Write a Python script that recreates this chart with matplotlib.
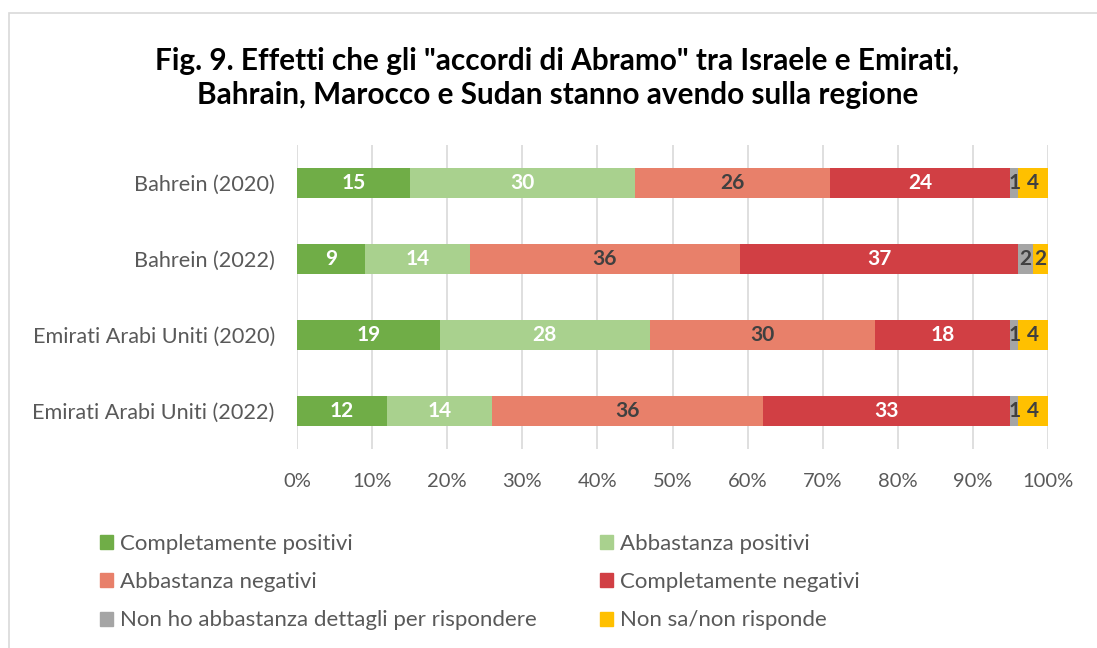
import matplotlib.pyplot as plt
from matplotlib.patches import Rectangle, Patch
import numpy as np

plt.rcParams['font.family'] = ['Lato', 'DejaVu Sans']

categories = ['Bahrein (2020)', 'Bahrein (2022)', 'Emirati Arabi Uniti (2020)', 'Emirati Arabi Uniti (2022)']
series_names = ['Completamente positivi', 'Abbastanza positivi', 'Abbastanza negativi',
                'Completamente negativi', 'Non ho abbastanza dettagli per rispondere', 'Non sa/non risponde']
comp_pos = [15, 9, 19, 12]
abb_pos = [30, 14, 28, 14]
abb_neg = [26, 36, 30, 36]
comp_neg = [24, 37, 18, 33]
no_detail = [1, 2, 1, 1]
non_sa = [4, 2, 4, 4]

series = [comp_pos, abb_pos, abb_neg, comp_neg, no_detail, non_sa]
colors = ['#70AD47', '#A9D18E', '#E8806A', '#D13F44', '#A5A5A5', '#FFC000']
label_colors = ['white', 'white', '#404040', 'white', '#404040', '#404040']

fig = plt.figure(figsize=(10.97, 6.48), dpi=100)
fig.patches.append(Rectangle((9 / 1097, -0.1), 1.2, (648 - 13) / 648 + 0.1, transform=fig.transFigure,
                             fill=False, edgecolor='#D9D9D9', linewidth=1.2))
ax = fig.add_axes([297 / 1097, (648 - 449) / 648, (1048 - 297) / 1097, (449 - 145) / 648])

y = np.arange(len(categories))
totals = np.sum(series, axis=0)
left = np.zeros(len(categories))
handles = []
for vals, col, lc, name in zip(series, colors, label_colors, series_names):
    pct = np.array(vals) / totals * 100
    ax.barh(y, pct, left=left, height=0.4, color=col, zorder=3)
    for yi, l, w, v in zip(y, left, pct, vals):
        ax.text(l + w / 2, yi, str(v), ha='center', va='center', color=lc,
                fontsize=15, fontweight='bold', zorder=4)
    left += pct
    handles.append(Patch(color=col, label=name))

ax.set_xlim(0, 100)
ax.set_ylim(3.5, -0.5)
ax.set_yticks(y)
ax.set_yticklabels(categories)
ax.set_xticks(np.arange(0, 101, 10))
ax.set_xticklabels([f'{v}%' for v in range(0, 101, 10)])
ax.tick_params(axis='both', length=0, labelcolor='#595959')
ax.tick_params(axis='y', pad=16, labelsize=15.6)
ax.tick_params(axis='x', pad=17, labelsize=14.5)
ax.grid(axis='x', color='#D9D9D9', linewidth=1.2, zorder=0)
for s in ax.spines.values():
    s.set_visible(False)

fig.text(0.508, 0.880, 'Fig. 9. Effetti che gli "accordi di Abramo" tra Israele e Emirati,\n'
         'Bahrain, Marocco e Sudan stanno avendo sulla regione',
         ha='center', va='center', fontsize=21.4, fontweight='bold', linespacing=1.25)

# row-wise legend order, like the original
order = [0, 2, 4, 1, 3, 5]
fig.legend([handles[i] for i in order], [series_names[i] for i in order],
           loc='upper left', bbox_to_anchor=(100 / 1097, 1 - 534 / 648),
           ncol=2, frameon=False, fontsize=16, labelcolor='#595959', handlelength=0.6,
           handleheight=0.6, handletextpad=0.3, columnspacing=2.85, labelspacing=0.82,
           borderpad=0, borderaxespad=0)

fig.savefig('out.png', dpi=100)
